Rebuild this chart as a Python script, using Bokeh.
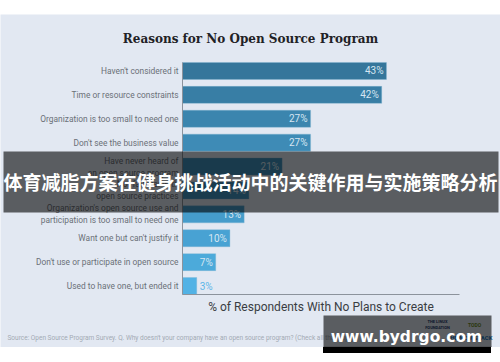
from bokeh.plotting import figure
from bokeh.models import (Range1d, Label, BoxAnnotation, ColumnDataSource, Spacer, Div)
from bokeh.core.properties import value
from bokeh.layouts import column, row
from bokeh.embed import file_html
from bokeh.resources import INLINE

# ---------------- data ----------------
categories = [
    "Haven't considered it",
    "Time or resource constraints",
    "Organization is too small to need one",
    "Don't see the business value",
    "Have never heard of\nan open source program",
    "Not familiar with\nopen source practices",
    "Organization's open source use and\nparticipation is too small to need one",
    "Want one but can't justify it",
    "Don't use or participate in open source",
    "Used to have one, but ended it",
]
values = [43, 42, 27, 27, 21, 14, 13, 10, 7, 3]
bar_colors = ["#35769b", "#387ea5", "#3b85ae", "#3e8bb6", "#4091bd",
              "#4396c4", "#459ccb", "#48a2d3", "#4caada", "#52b2e5"]
title_text = "Reasons for No Open Source Program"
x_title = "% of Respondents With No Plans to Create"
source_text = ("Source: Open Source Program Survey. Q. Why doesn't your company have an "
               "open source program? (Check all that apply.)")
banner_text = "体育减脂方案在健身挑战活动中的关键作用与实施策略分析"
watermark_text = "www.bydrgo.com"

PANEL = "#e2e8f2"
n = len(categories)
ypos = [n - 1 - i for i in range(n)]  # first category on top

# figure geometry (px) and axis frame inside it
W, H = 500, 333
FL, FR, FT, FB = 182, 459, 48, 280
XMAX = 58.4
Y0, Y1 = -0.354, n - 1 + 0.354
sx = (FR - FL) / XMAX
sy = (FB - FT) / (Y1 - Y0)

def dx(px):
    return (px - FL) / sx

def dy(py):
    return Y0 + (FB - py) / sy

p = figure(width=W, height=H, output_backend="svg", toolbar_location=None,
           x_range=Range1d(dx(0), dx(W)), y_range=Range1d(dy(H), dy(0)),
           x_axis_location=None, y_axis_location=None,
           min_border=0)
p.background_fill_color = PANEL
p.border_fill_color = PANEL
p.outline_line_color = None
p.grid.visible = False

inside = [v >= 5 for v in values]
src = ColumnDataSource(dict(
    y=ypos, v=values, color=bar_colors, cat=categories,
    lbl=[f"{v}%" for v in values],
    lblc=["#d6e6f2" if ins else "#5db6e8" for ins in inside],
    align=["right" if ins else "left" for ins in inside],
    xoff=[-3 if ins else 3 for ins in inside],
))
p.hbar(y="y", right="v", left=0, height=0.71, color="color", source=src,
       line_color="#7fb3d3", line_alpha=0.6, line_width=0.6)
p.text(x="v", y="y", text="lbl", text_color="lblc", text_align="align",
       x_offset="xoff", text_baseline="middle", text_font_size="10px",
       text_font=value("Roboto"), source=src)

# category labels (left axis)
p.text(x=0, y="y", text="cat", text_align="right", x_offset=-4,
       text_baseline="middle", text_font_size="8.4px", text_font=value("Roboto"),
       text_color="#6b7078", text_line_height=1.2, source=src)

# axis lines
p.segment(x0=[0, 0], y0=[Y0, Y0], x1=[0, XMAX], y1=[Y1, Y0],
          line_color="#8c939c", line_width=1)

# axis title
p.add_layout(Label(x=XMAX / 2, y=dy(292), text=x_title, text_align="center",
                   text_baseline="middle", text_font="Roboto",
                   text_font_size="12px", text_color="#3a3d42"))

# title
p.add_layout(Label(x=dx(250), y=dy(24), text=title_text, text_align="center",
                   text_baseline="middle", text_font="DejaVu Serif",
                   text_font_style="bold", text_font_size="12px",
                   text_color="#1f2226"))
# source
p.add_layout(Label(x=dx(7), y=dy(323), text=source_text, text_align="left",
                   text_baseline="middle", text_font="Roboto",
                   text_font_size="6.5px", text_color="#a3aab4"))
# logos (as text)
p.add_layout(Label(x=dx(437), y=dy(310), text="THE LINUX\nFOUNDATION", text_align="center",
                   text_baseline="middle", text_font="Roboto", text_font_style="bold",
                   text_font_size="4px", text_color="#1d3a6b"))
p.add_layout(Label(x=dx(474), y=dy(310), text="TODO", text_align="center",
                   text_baseline="middle", text_font="Roboto", text_font_style="bold",
                   text_font_size="5px", text_color="#6b8a1f"))
p.add_layout(Label(x=dx(492), y=dy(323), text="THE NEW STACK", text_align="right",
                   text_baseline="middle", text_font="Roboto", text_font_style="bold",
                   text_font_size="6px", text_color="#1b75bc"))

# banner
p.add_layout(BoxAnnotation(left=dx(3), right=dx(498), top=dy(137), bottom=dy(198),
                           fill_color="black", fill_alpha=0.6, line_color=None,
                           level="overlay"))
p.add_layout(Label(x=dx(250), y=dy(167), text=banner_text, text_align="center",
                   text_baseline="middle", text_font="Noto Sans CJK SC",
                   text_font_style="bold", text_font_size="19px",
                   text_color="white", level="overlay"))

# watermark
p.add_layout(BoxAnnotation(left=dx(323), right=dx(491), top=dy(301), bottom=dy(332),
                           fill_color="black", fill_alpha=0.6, line_color=None,
                           level="overlay"))
p.add_layout(BoxAnnotation(left=dx(323), right=dx(491), top=dy(332), bottom=dy(333),
                           fill_color="black", fill_alpha=1.0, line_color=None,
                           level="overlay"))
p.add_layout(Label(x=dx(406), y=dy(322), text=watermark_text, text_align="center",
                   text_baseline="middle", text_font="DejaVu Sans",
                   text_font_style="bold", text_font_size="15.5px",
                   text_color="white", level="overlay"))

strip = Div(width=168, height=6, margin=0,
            styles={"background-color": "#000000"})
layout = column(Spacer(width=W, height=14, margin=0), p,
                row(Spacer(width=323, height=6, margin=0), strip, margin=0),
                margin=0, spacing=0)

open("out.html", "w").write(file_html(layout, INLINE))
